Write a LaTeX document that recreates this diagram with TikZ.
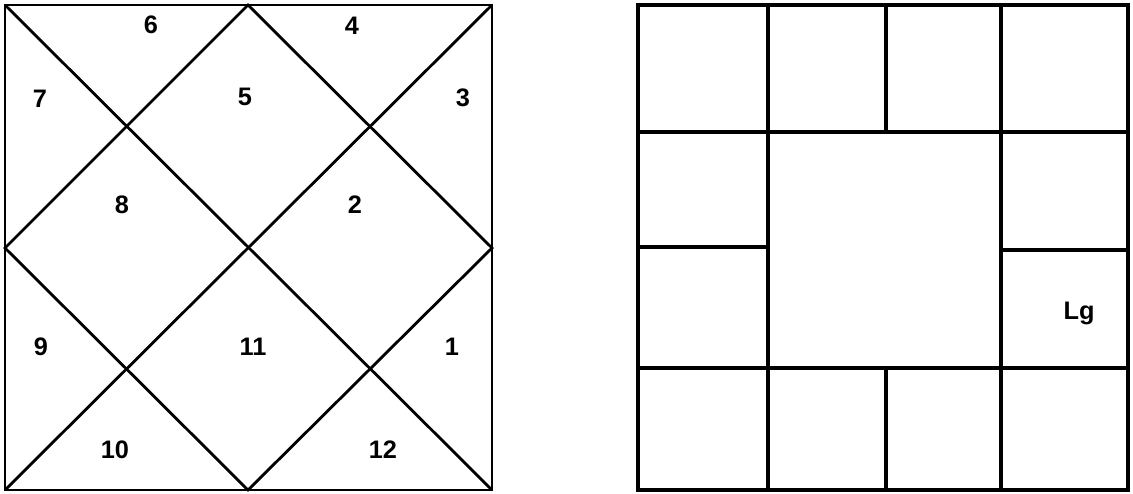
\documentclass[tikz,border=0pt]{standalone}
\usepackage{fontspec}
\setmainfont{Liberation Sans}

\begin{document}
\begin{tikzpicture}[x=0.025cm,y=-0.025cm,
	chart/.style={line width=2pt},
	grid line/.style={line width=2.5pt},
	house/.style={font=\fontsize{18}{18}\selectfont\bfseries}]
	\useasboundingbox (0,0) rectangle (1133,494);
	% north chart: square with both diagonals and the inner diamond
	\draw[chart] (5,5) rectangle (492,490);
	\draw[chart] (5,5) -- (492,490);
	\draw[chart] (492,5) -- (5,490);
	\draw[chart] (248,5) -- (492,248) -- (248,490) -- (5,248) -- cycle;
	% house numbers
	\node[house] (h1)  at (452,347) {1};
	\node[house] (h2)  at (355,205) {2};
	\node[house] (h3)  at (463,98)  {3};
	\node[house] (h4)  at (352,26)  {4};
	\node[house] (h5)  at (245,97)  {5};
	\node[house] (h6)  at (151,25)  {6};
	\node[house] (h7)  at (40,99)   {7};
	\node[house] (h8)  at (122,205) {8};
	\node[house] (h9)  at (41,347)  {9};
	\node[house] (h10) at (115,450) {10};
	\node[house] (h11) at (253,347) {11};
	\node[house] (h12) at (383,450) {12};
	% south chart: outer square and the twelve boxes round the empty middle
	\draw[grid line] (638,5) rectangle (1128,490);
	\draw[grid line] (638,132) -- (1128,132);
	\draw[grid line] (638,368) -- (1128,368);
	\draw[grid line] (768,5) -- (768,490);
	\draw[grid line] (1001,5) -- (1001,490);
	\draw[grid line] (886,5) -- (886,132);
	\draw[grid line] (886,368) -- (886,490);
	\draw[grid line] (638,247) -- (768,247);
	\draw[grid line] (1001,250) -- (1128,250);
	% lagna
	\node[house] (lg) at (1079,313) {Lg};
\end{tikzpicture}
\end{document}
